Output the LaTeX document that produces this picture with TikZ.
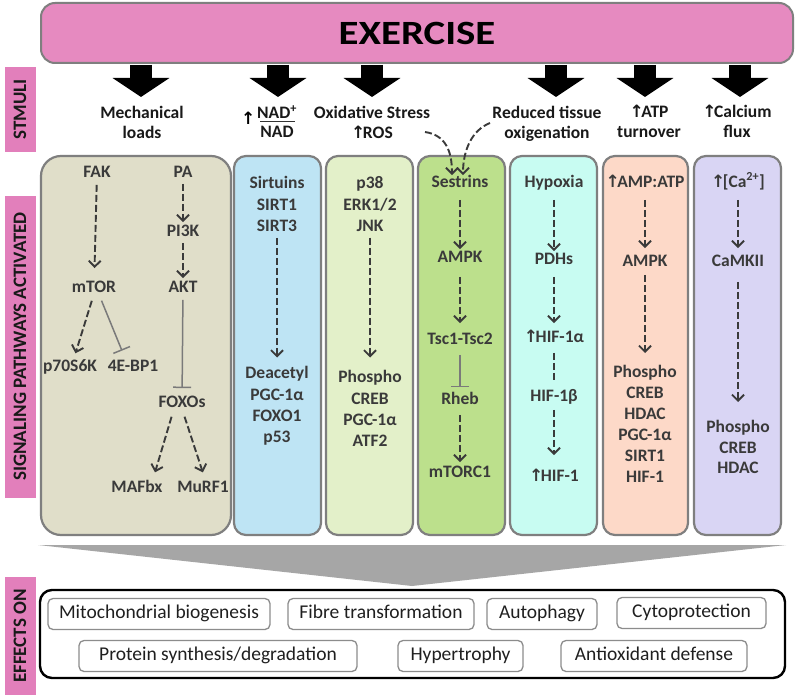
\documentclass[tikz,border=0pt]{standalone}
\usepackage{fontspec}
\usepackage{graphicx}
\setmainfont{Carlito}
\newfontfamily\arrfont{DejaVu Sans}
\usetikzlibrary{arrows.meta}
\definecolor{mechc}{HTML}{E0DEC9}
\definecolor{sirtc}{HTML}{BEE4F4}
\definecolor{pc}{HTML}{E3F0C9}
\definecolor{sestc}{HTML}{BCE08C}
\definecolor{hypc}{HTML}{C8FCF2}
\definecolor{ampc}{HTML}{FDD9C8}
\definecolor{cac}{HTML}{D9D5F4}
\definecolor{pinkA}{HTML}{E68AC0}
\definecolor{pinkB}{HTML}{E27FBB}
\definecolor{bord}{HTML}{7F7F7F}
\definecolor{txt}{HTML}{3A3A3A}
\definecolor{inhc}{HTML}{7A7A7A}
\definecolor{tric}{HTML}{A6A6A6}
\definecolor{effgray}{HTML}{8C8C8C}
\newcommand{\upar}{{\arrfont\fontsize{17}{17}\selectfont ↑}\kern-2.5pt}
\begin{document}
\begin{tikzpicture}[x=1pt,y=-1pt,
  colbox/.style={draw=bord, line width=2.2pt, rounded corners=12pt},
  lone/.style={font=\bfseries\fontsize{17.5}{21}\selectfont, text=txt, inner sep=1pt, text height=12pt, text depth=3.5pt},
  lmul/.style={font=\bfseries\fontsize{17.5}{21.3}\selectfont, text=txt, inner sep=1pt, align=center, anchor=north},
  stim/.style={font=\bfseries\fontsize{17.5}{20}\selectfont, text=black!90, align=center, inner sep=0pt, anchor=north},
  act/.style={draw=txt, line width=1.9pt, dash pattern=on 7pt off 3pt, -{Straight Barb[length=6pt,width=12pt]}},
  dashline/.style={draw=txt, line width=1.9pt, dash pattern=on 7pt off 3pt},
  inh/.style={draw=inhc, line width=1.5pt, -{Bar[width=18pt]}},
  blockarr/.style={draw=black, line width=22pt, -{Triangle[width=56pt,length=19pt]}},
  sidelbl/.style={fill=pinkB, rotate=90, font=\bfseries\fontsize{19}{19}\selectfont, text=black!90, minimum height=31pt, inner sep=0pt},
  effbox/.style={draw=effgray, line width=1.3pt, rounded corners=5pt, fill=white, font=\fontsize{19.5}{20}\selectfont, text=black!88, minimum height=31pt, inner sep=0pt, text height=13pt, text depth=4pt}
]
\useasboundingbox (0,0) rectangle (800,698);
\fill[white] (0,0) rectangle (800,698);

% side labels
\node[sidelbl, minimum width=85pt] (stmlbl) at (20,109.5) {STMULI};
\node[sidelbl, minimum width=302pt] (siglbl) at (20,346.5) {SIGNALING PATHWAYS ACTIVATED};
\node[sidelbl, minimum width=118pt] (efflbl) at (20,636) {EFFECTS ON};

% exercise box
\node[draw=bord, line width=2pt, fill=pinkA, rounded corners=14pt, minimum width=752pt, minimum height=60pt, inner sep=0pt] (ex) at (417,33) {\scalebox{1.2}[1]{\bfseries\fontsize{34}{34}\selectfont EXERCISE}};

% block arrows
\foreach \nm/\xx in {ta/141, tb/278, tc/372, td/556, te/645, tf/740}{
  \coordinate (\nm) at (\xx,97);
  \draw[blockarr, shorten <=1pt] (ex.south -| \nm) -- (\nm);
}

% stimuli
\node[stim] (smech) at (142,106) {Mechanical\\loads};
\node[stim] (sox) at (372,106) {Oxidative Stress\\\upar ROS};
\node[stim] (sred) at (547,106) {Reduced tissue\\oxigenation};
\node[stim] (satp) at (649,105) {\upar ATP\\turnover};
\node[stim] (scal) at (737,105) {\upar Calcium\\flux};
\node[font=\bfseries, inner sep=0pt] (nadup) at (247,118) {\upar};
\node[stim, anchor=center] (nadp) at (277,112) {NAD\textsuperscript{+}};
\node[stim, anchor=center] (nadd) at (277,132) {NAD};
\draw[line width=1.3pt, draw=black!80] (260,121.5) -- (295,121.5);

% column boxes
\path[colbox, fill=mechc, rounded corners=20pt] (41,156) rectangle (231,535);
\path[colbox, fill=sirtc] (234,156) rectangle (321,535);
\path[colbox, fill=pc] (326,156) rectangle (413,535);
\path[colbox, fill=sestc] (418,156) rectangle (505,535);
\path[colbox, fill=hypc] (510,156) rectangle (597,535);
\path[colbox, fill=ampc] (603,156) rectangle (688,535);
\path[colbox, fill=cac] (694,156) rectangle (781,535);

% mechanical column
\node[lone] (fak) at (97,173) {FAK};
\node[lone] (pa) at (183,173) {PA};
\node[lone] (pik) at (183,232) {PI3K};
\node[lone] (mtor) at (94,288) {mTOR};
\node[lone] (akt) at (183,288) {AKT};
\node[lone] (psk) at (70,367) {p70S6K};
\node[lone] (ebp) at (133,367) {4E-BP1};
\node[lone] (foxo) at (182,403) {FOXOs};
\node[lone] (maf) at (137,488) {MAFbx};
\node[lone] (murf) at (203,488) {MuRF1};
\draw[act, shorten <=3pt, shorten >=11pt] (fak) -- (mtor);
\draw[act, shorten <=2pt, shorten >=1pt] (pa) -- (pik);
\draw[act, shorten <=2pt, shorten >=1pt] (pik) -- (akt);
\draw[act, shorten <=4pt, shorten >=5pt] ([xshift=-1pt]mtor.south) -- ([xshift=4pt]psk.north);
\draw[inh, shorten <=4pt, shorten >=8pt] ([xshift=6pt]mtor.south) -- ([xshift=-8pt]ebp.north);
\draw[inh, shorten <=3pt, shorten >=6pt] (akt) -- (foxo);
\draw[act, shorten <=5pt, shorten >=7pt] ([xshift=-9pt]foxo.south) -- ([xshift=16pt]maf.north);
\draw[act, shorten <=5pt, shorten >=7pt] ([xshift=1pt]foxo.south) -- ([xshift=2pt]murf.north);

% sirtuins column
\node[lmul] (sira) at (277,175.5) {Sirtuins\\SIRT1\\SIRT3};
\node[lmul] (sirb) at (277,365.5) {Deacetyl\\PGC-1α\\FOXO1\\p53};
\draw[act, shorten <=5pt, shorten >=8pt] (sira) -- (sirb);

% p38 column
\node[lmul] (pka) at (370,175.5) {p38\\ERK1/2\\JNK};
\node[lmul] (pkb) at (370,369.5) {Phospho\\CREB\\PGC-1α\\ATF2};
\draw[act, shorten <=5pt, shorten >=12pt] (pka) -- (pkb);

% sestrins column
\node[lone] (sest) at (460,183) {Sestrins};
\node[lone] (ampka) at (460,258) {AMPK};
\node[lone] (tsc) at (460,340) {Tsc1-Tsc2};
\node[lone] (rheb) at (460,400) {Rheb};
\node[lone] (mtorc) at (460,473) {mTORC1};
\draw[act, shorten <=8pt, shorten >=0pt] (sest) -- (ampka);
\draw[act, shorten <=10pt, shorten >=8pt] (ampka) -- (tsc);
\draw[inh, shorten <=6pt, shorten >=4pt] (tsc) -- (rheb);
\draw[act, shorten <=6pt, shorten >=2pt] (rheb) -- (mtorc);

% hypoxia column
\node[lone] (hyp) at (554,183) {Hypoxia};
\node[lone] (pdh) at (554,260) {PDHs};
\node[lone] (hifa) at (554,338) {\upar HIF-1α};
\node[lone] (hifb) at (554,397) {HIF-1β};
\node[lone] (hif) at (554,477) {\upar HIF-1};
\draw[act, shorten <=8pt, shorten >=0pt] (hyp) -- (pdh);
\draw[act, shorten <=8pt, shorten >=6pt] (pdh) -- (hifa);
\draw[dashline, shorten <=6pt, shorten >=8pt] (hifa) -- (hifb);
\draw[act, shorten <=4pt, shorten >=13pt] (hifb) -- (hif);

% AMP column
\node[lone] (ampatp) at (645,183) {\upar AMP:ATP};
\node[lone] (ampkb) at (645,262) {AMPK};
\node[lmul, font=\bfseries\fontsize{17.5}{21}\selectfont] (ampb) at (645,364.5) {Phospho\\CREB\\HDAC\\PGC-1α\\SIRT1\\HIF-1};
\draw[act, shorten <=8pt, shorten >=5pt] (ampatp) -- (ampkb);
\draw[act, shorten <=4pt, shorten >=11.5pt] (ampkb) -- (ampb);

% calcium column
\node[lone] (ca) at (738,183) {\upar[Ca\textsuperscript{2+}]};
\node[lone] (camk) at (738,262) {CaMKII};
\node[lmul, font=\bfseries\fontsize{17.5}{20.5}\selectfont] (cab) at (738,419.5) {Phospho\\CREB\\HDAC};
\draw[act, shorten <=8pt, shorten >=5pt] (ca) -- (camk);
\draw[act, shorten <=11pt, shorten >=17.5pt] (camk) -- (cab);

% curved dashed arrows to Sestrins
\coordinate (rosend) at (425,132);
\coordinate (oxiend) at (490,123);
\draw[act] (rosend) .. controls (445,135) and (452,150) .. ([xshift=-8pt,yshift=-1pt]sest.north);
\draw[act] (oxiend) .. controls (472,130) and (463,150) .. ([xshift=3pt,yshift=-1pt]sest.north);

% gray funnel
\fill[tric] (38,545) -- (786,545) -- (412,586) -- cycle;

% effects
\draw[black, line width=2.4pt, rounded corners=12pt, fill=white] (40,590) rectangle (785,678);
\node[effbox, minimum width=222pt] (e1) at (159,614) {Mitochondrial biogenesis};
\node[effbox, minimum width=186pt] (e2) at (381,614) {Fibre transformation};
\node[effbox, minimum width=110pt] (e3) at (542,614) {Autophagy};
\node[effbox, minimum width=149pt] (e4) at (691.5,613) {Cytoprotection};
\node[effbox, minimum width=278pt] (e5) at (218,656) {Protein synthesis/degradation};
\node[effbox, minimum width=125pt] (e6) at (460.5,656) {Hypertrophy};
\node[effbox, minimum width=186pt] (e7) at (654,656) {Antioxidant defense};
\end{tikzpicture}
\end{document}
